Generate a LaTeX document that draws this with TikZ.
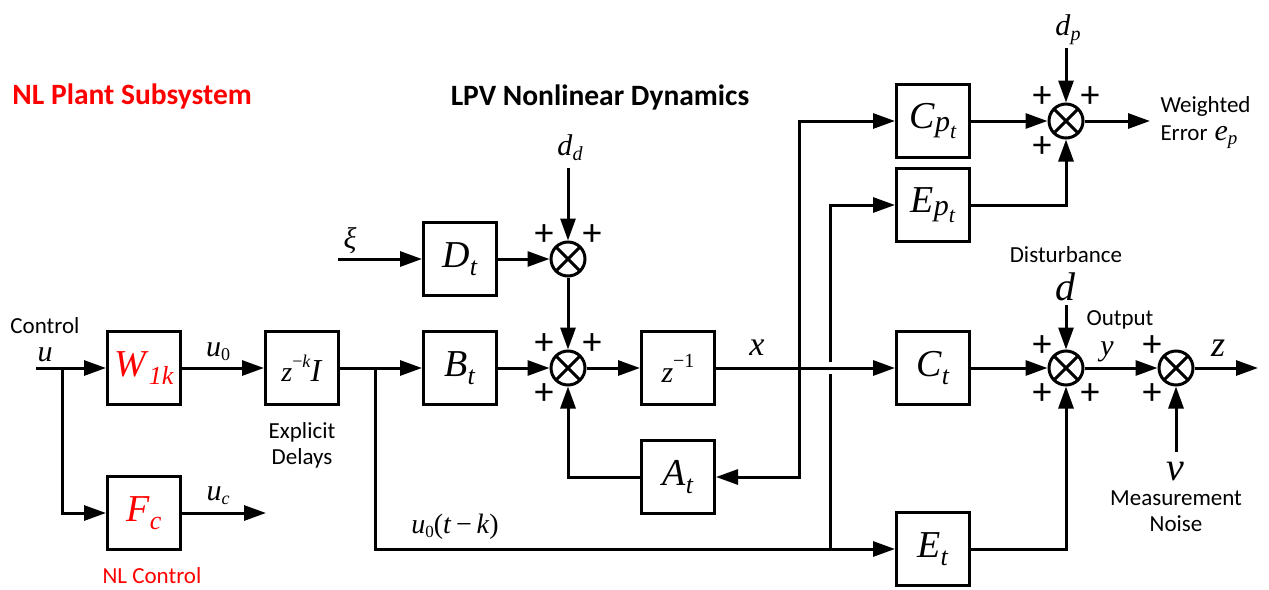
\documentclass[tikz,border=0pt]{standalone}
\usepackage{fontspec}
\setmainfont{Liberation Serif}
\newfontfamily\sansf{Carlito}
\usetikzlibrary{arrows.meta}
\newcommand\fs[1]{\fontsize{#1}{#1}\selectfont}
\newcommand\sbx[2]{\raisebox{-0.22em}{\fs{#1}\textit{#2}}}
\begin{document}
\begin{tikzpicture}[x=1pt,y=-1pt,
 line width=3pt,
 >={Triangle[length=22pt,width=15pt]},
 blk/.style={draw, line width=3pt, minimum width=73pt, minimum height=73pt, inner sep=0pt},
 sumj/.style={circle, draw, line width=3pt, minimum size=34pt, inner sep=0pt,
   path picture={\draw[line width=3pt] (path picture bounding box.north west) -- (path picture bounding box.south east)
     (path picture bounding box.north east) -- (path picture bounding box.south west);}},
 pl/.style={font=\sansf\fs{38}, inner sep=0pt},
 lab/.style={inner sep=0pt},
 sl/.style={font=\sansf\fs{23}, inner sep=0pt},
 ttl/.style={font=\sansf\bfseries\fs{29.5}, inner sep=0pt},
]
\path[use as bounding box] (0,0) rectangle (1269,589);

% titles
\node[ttl, text=red, anchor=west] (t1) at (11,96) {NL Plant Subsystem};
\node[ttl] (t2) at (600,97) {LPV Nonlinear Dynamics};

% blocks
\node[blk] (W) at (144,368) {\color{red}\fs{38}\textit{W}\sbx{26}{1k}};
\node[blk] (F) at (144,513) {\color{red}\fs{38}\textit{F}\sbx{26}{c}};
\node[blk] (Zk) at (302,368) {{\fs{28}\textit{z}}\raisebox{14pt}{\fs{18}−\textit{k}}{\fs{32}\textit{I}}};
\node[blk] (B) at (460,368) {\fs{38}\textit{B}\sbx{26}{t}};
\node[blk] (D) at (460,259) {\fs{38}\textit{D}\sbx{26}{t}};
\node[blk] (Zi) at (678,368) {{\fs{30}\textit{z}}\raisebox{15pt}{\fs{20}−1}};
\node[blk] (A) at (678,477) {\fs{38}\textit{A}\sbx{26}{t}};
\node[blk] (Cp) at (933,121) {\fs{38}\textit{C}\raisebox{-3pt}{\fs{30}\textit{p}}\raisebox{-10pt}{\fs{22}\textit{t}}};
\node[blk] (Ep) at (933,205) {\fs{38}\textit{E}\raisebox{-3pt}{\fs{30}\textit{p}}\raisebox{-10pt}{\fs{22}\textit{t}}};
\node[blk] (C) at (933,368) {\fs{38}\textit{C}\sbx{26}{t}};
\node[blk] (E) at (933,549) {\fs{38}\textit{E}\sbx{26}{t}};

% summing junctions
\node[sumj] (S1) at (568,368) {};
\node[sumj] (S2) at (568,259) {};
\node[sumj] (S3) at (1066,121) {};
\node[sumj] (S4) at (1066,368) {};
\node[sumj] (S5) at (1176,368) {};

% plus signs
\node[pl] (p1a) at ([shift={(-24,-24)}]S1.center) {+};
\node[pl] (p1b) at ([shift={(24,-24)}]S1.center) {+};
\node[pl] (p1c) at ([shift={(-24,26)}]S1.center) {+};
\node[pl] (p2a) at ([shift={(-24,-24)}]S2.center) {+};
\node[pl] (p2b) at ([shift={(24,-24)}]S2.center) {+};
\node[pl] (p3a) at ([shift={(-24,-24)}]S3.center) {+};
\node[pl] (p3b) at ([shift={(24,-24)}]S3.center) {+};
\node[pl] (p3c) at ([shift={(-24,26)}]S3.center) {+};
\node[pl] (p4a) at ([shift={(-24,-22)}]S4.center) {+};
\node[pl] (p4b) at ([shift={(-24,26)}]S4.center) {+};
\node[pl] (p4c) at ([shift={(24,26)}]S4.center) {+};
\node[pl] (p5a) at ([shift={(-24,-22)}]S5.center) {+};
\node[pl] (p5b) at ([shift={(-24,26)}]S5.center) {+};

% coordinates
\coordinate (in) at (36,368);
\coordinate (br0) at (62,368);
\coordinate (uc) at (266,513);
\coordinate (br1) at (375,368);
\coordinate (xi) at (338,259);
\coordinate (dd) at (568,168);
\coordinate (xb) at (799,368);
\coordinate (gb) at (830,549);
\coordinate (g1) at (830,374);
\coordinate (g2) at (830,362);
\coordinate (dp) at (1066,48);
\coordinate (ep) at (1150,121);
\coordinate (dt) at (1066,305);
\coordinate (zo) at (1258,368);
\coordinate (vi) at (1176,452);

% connectors
\draw[->] (in) -- (W.west);
\draw[->] (br0) |- (F.west);
\draw[->] (F.east) -- (uc);
\draw[->] (W.east) -- (Zk.west);
\draw[->] (Zk.east) -- (B.west);
\draw[->] (br1) |- (E.west);
\draw[->] (xi) -- (D.west);
\draw[->] (D.east) -- (S2.west);
\draw[->] (dd) -- (S2.north);
\draw[->] (S2.south) -- (S1.north);
\draw[->] (B.east) -- (S1.west);
\draw[->] (S1.east) -- (Zi.west);
\draw[->] (Zi.east) -- (C.west);
\draw[->] (xb) |- (Cp.west);
\draw[->] (xb) |- (A.east);
\draw[->] (A.west) -| (S1.south);
\draw (gb) -- (g1);
\draw[->] (g2) |- (Ep.west);
\draw[->] (Cp.east) -- (S3.west);
\draw[->] (Ep.east) -| (S3.south);
\draw[->] (dp) -- (S3.north);
\draw[->] (S3.east) -- (ep);
\draw[->] (C.east) -- (S4.west);
\draw[->] (dt) -- (S4.north);
\draw[->] (E.east) -| (S4.south);
\draw[->] (S4.east) -- (S5.west);
\draw[->] (S5.east) -- (zo);
\draw[->] (vi) -- (S5.south);

% math labels
\node[lab] (lu) at (45,355) {\fs{30}\textit{u}};
\node[lab] (lu0) at (218,352) {{\fs{30}\textit{u}}\raisebox{-4pt}{\fs{18}0}};
\node[lab] (luc) at (218,496) {{\fs{30}\textit{u}}\raisebox{-4pt}{\fs{18}\textit{c}}};
\node[lab] (lxi) at (350,241) {\fs{30}\textit{ξ}};
\node[lab] (ldd) at (570,148) {{\fs{30}\textit{d}}\raisebox{-5pt}{\fs{20}\textit{d}}};
\node[lab] (lx) at (757,348) {\fs{34}\textit{x}};
\node[lab] (ldp) at (1068,30) {{\fs{30}\textit{d}}\raisebox{-5pt}{\fs{20}\textit{p}}};
\node[lab] (ld) at (1066,287) {\fs{40}\textit{d}};
\node[lab] (ly) at (1107,352) {\fs{30}\textit{y}};
\node[lab] (lz) at (1218,348) {\fs{36}\textit{z}};
\node[lab] (lv) at (1175,472) {\fs{40}\textit{v}};
\node[lab] (lu0k) at (455,527) {\fs{28}\textit{u}\raisebox{-4pt}{\fs{17}0}(\textit{t}\,−\,\textit{k})};

% sans labels
\node[sl] (lc1) at (45,326) {Control};
\node[sl] (led1) at (302,432) {Explicit};
\node[sl] (led2) at (302,458) {Delays};
\node[sl, text=red] (lnl) at (152,576) {NL Control};
\node[sl] (ldist) at (1066,255) {Disturbance};
\node[sl] (lout) at (1120,320) {Output};
\node[sl, anchor=west] (lw1) at (1159,106) {Weighted};
\node[sl, anchor=west] (lw2) at (1159,137) {Error\hspace{7pt}{\rmfamily\fs{30}\textit{e}\raisebox{-4pt}{\fs{19}\textit{p}}}};
\node[sl] (lm1) at (1176,498) {Measurement};
\node[sl] (lm2) at (1176,524) {Noise};
\end{tikzpicture}
\end{document}
